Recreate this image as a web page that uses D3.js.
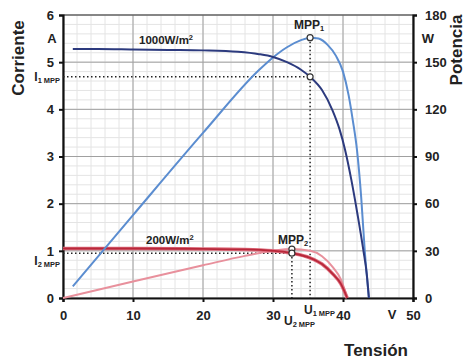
<!DOCTYPE html>
<html><head><meta charset="utf-8">
<script src="https://cdn.jsdelivr.net/npm/d3@7"></script>
<style>body{margin:0;background:#fff}svg{display:block}text{font-family:"Liberation Sans",Arial,sans-serif;font-weight:bold;fill:#222}</style>
</head><body><svg id="c" width="466" height="362"></svg>
<script>
// Data
const xTicks = [0, 10, 20, 30, 40, 50];
const iTicks = [0, 1, 2, 3, 4, 5, 6];
const pTicks = [0, 30, 60, 90, 120, 150, 180];

const v1000 = [1.4, 5, 10, 15, 20, 25, 28, 30, 32, 34, 35.3, 37, 38.5, 39.5, 40.3, 41.2, 42.1, 42.9, 43.4, 43.7];
const i1000 = [5.28, 5.28, 5.27, 5.26, 5.25, 5.22, 5.17, 5.11, 5.0, 4.84, 4.69, 4.41, 3.98, 3.58, 3.14, 2.5, 1.75, 1.02, 0.5, 0];

const vP1000 = [1.4, 10, 20, 28, 30, 32, 34, 35.3, 36.5, 37.8, 39, 40, 40.8, 41.4, 42, 42.6, 43.1, 43.7];
const p1000 = [7.4, 52.7, 105, 145, 153, 159.5, 164, 165.6, 165, 161, 154, 144, 129, 113, 94, 64, 30.5, 0];

const v200 = [0, 10, 20, 26, 30, 32.7, 35.3, 37, 38.6, 39.7, 40.6];
const i200 = [1.05, 1.05, 1.04, 1.03, 1.0, 0.95, 0.85, 0.72, 0.5, 0.3, 0];
const p200 = [0, 10.5, 20.8, 26.8, 30, 31.1, 30, 26.6, 19.3, 11.9, 0];

const mpp1 = {v: 35.3, i: 4.69, p: 165.6};
const mpp2 = {v: 32.7, i: 0.95, p: 31.1};

const svg = d3.select("#c");
const L = 63, R = 413, T = 15, B = 298;
const x = d3.scaleLinear().domain([0, 50]).range([L, R]);
const yI = d3.scaleLinear().domain([0, 6]).range([B, T]);
const yP = d3.scaleLinear().domain([0, 180]).range([B, T]);

// grid
const g = svg.append("g");
g.selectAll(".vm").data(d3.range(0, 50.01, 2)).join("line")
  .attr("x1", d => x(d)).attr("x2", d => x(d)).attr("y1", T).attr("y2", B)
  .attr("stroke", "#e4e4e4").attr("stroke-width", 1);
g.selectAll(".hm").data(d3.range(0, 6.01, 0.2)).join("line")
  .attr("y1", d => yI(d)).attr("y2", d => yI(d)).attr("x1", L).attr("x2", R)
  .attr("stroke", "#e4e4e4").attr("stroke-width", 1);
g.selectAll(".vM").data(xTicks).join("line")
  .attr("x1", d => x(d)).attr("x2", d => x(d)).attr("y1", T).attr("y2", B)
  .attr("stroke", "#a0a0a0").attr("stroke-width", 1);
g.selectAll(".hM").data(iTicks).join("line")
  .attr("y1", d => yI(d)).attr("y2", d => yI(d)).attr("x1", L).attr("x2", R)
  .attr("stroke", "#a0a0a0").attr("stroke-width", 1);
svg.append("line").attr("x1", L).attr("x2", R).attr("y1", T).attr("y2", T).attr("stroke", "#444").attr("stroke-width", 1.2);

// axes
const axL = svg.append("g").attr("transform", `translate(${L},0)`)
  .call(d3.axisLeft(yI).tickValues(iTicks).tickSize(4).tickPadding(5).tickFormat(d3.format("d")));
const axR = svg.append("g").attr("transform", `translate(${R},0)`)
  .call(d3.axisRight(yP).tickValues(pTicks).tickSize(4).tickPadding(8).tickFormat(d3.format("d")));
const axB = svg.append("g").attr("transform", `translate(0,${B})`)
  .call(d3.axisBottom(x).tickValues(xTicks).tickSize(4).tickPadding(9).tickFormat(d3.format("d")));
[axL, axR, axB].forEach(a => {
  a.select(".domain").attr("stroke", "#111").attr("stroke-width", 2.2);
  a.selectAll(".tick line").attr("stroke", "#111").attr("stroke-width", 2);
  a.selectAll(".tick text").attr("font-size", 13).attr("font-weight", "bold").attr("fill", "#222")
    .attr("font-family", '"Liberation Sans",Arial,sans-serif');
});

// dotted guide lines
const dot = (x1, y1, x2, y2) => svg.append("line").attr("x1", x1).attr("y1", y1).attr("x2", x2).attr("y2", y2)
  .attr("stroke", "#222").attr("stroke-width", 1.5).attr("stroke-dasharray", "1.5,2.5");
dot(L, yI(mpp1.i), x(mpp1.v), yI(mpp1.i));
dot(x(mpp1.v), yP(mpp1.p), x(mpp1.v), B);
dot(L, yI(mpp2.i), x(mpp2.v), yI(mpp2.i));
dot(x(mpp2.v), yP(mpp2.p), x(mpp2.v), B);

// curves
const lineI = (vs, is) => d3.line().x((d, k) => x(vs[k])).y(d => yI(d)).curve(d3.curveMonotoneX)(is);
const lineP = (vs, ps) => d3.line().x((d, k) => x(vs[k])).y(d => yP(d)).curve(d3.curveMonotoneX)(ps);

svg.append("path").attr("d", lineP(v200, p200)).attr("fill", "none").attr("stroke", "#e8909c").attr("stroke-width", 2);
svg.append("path").attr("d", lineI(v200, i200)).attr("fill", "none").attr("stroke", "#e07080").attr("stroke-width", 3.5);
svg.append("path").attr("d", lineI(v200, i200)).attr("fill", "none").attr("stroke", "#b8283a").attr("stroke-width", 1.8);
svg.append("path").attr("d", lineP(vP1000, p1000)).attr("fill", "none").attr("stroke", "#5b8dd0").attr("stroke-width", 2);
svg.append("path").attr("d", lineI(v1000, i1000)).attr("fill", "none").attr("stroke", "#2c3a7e").attr("stroke-width", 2);

// MPP markers
const circ = (cx, cy) => svg.append("circle").attr("cx", cx).attr("cy", cy).attr("r", 3)
  .attr("fill", "#fff").attr("stroke", "#333").attr("stroke-width", 1.2);
circ(x(mpp1.v), yP(mpp1.p));
circ(x(mpp1.v), yI(mpp1.i));
circ(x(mpp2.v), yP(mpp2.p));
circ(x(mpp2.v), yI(mpp2.i));

// labels
const txt = (s, xx, yy, size, anchor) => svg.append("text").attr("x", xx).attr("y", yy)
  .attr("font-size", size).attr("text-anchor", anchor || "start").text(s);
txt("A", 52, 43, 13, "middle");
txt("W", 428, 43, 13, "middle");
txt("V", 392, 319, 13, "middle");

const sub = (main, s, xx, yy, size, anchor) => {
  const t = svg.append("text").attr("x", xx).attr("y", yy).attr("font-size", size).attr("text-anchor", anchor || "start");
  t.append("tspan").text(main);
  t.append("tspan").attr("font-size", size * 0.62).attr("dy", 2).text(s);
  return t;
};
sub("I", "1 MPP", 60, 81, 12, "end");
sub("I", "2 MPP", 60, 265, 12, "end");
sub("U", "1 MPP", 304, 314, 12, "start");
sub("U", "2 MPP", 284, 325, 12, "start");
sub("MPP", "1", 294, 29, 12, "start");
sub("MPP", "2", 278, 244, 12, "start");

const irr = (a, xx, yy) => {
  const t = svg.append("text").attr("x", xx).attr("y", yy).attr("font-size", 11.5);
  t.append("tspan").text(a);
  t.append("tspan").attr("font-size", 7.5).attr("dy", -4).text("2");
};
irr("1000W/m", 139, 44);
irr("200W/m", 146, 244);

svg.append("text").attr("transform", "translate(24,58) rotate(-90)").attr("text-anchor", "middle")
  .attr("font-size", 17).attr("fill", "#333").text("Corriente");
svg.append("text").attr("transform", "translate(462,50) rotate(-90)").attr("text-anchor", "middle")
  .attr("font-size", 17).attr("fill", "#333").text("Potencia");
svg.append("text").attr("x", 376).attr("y", 356).attr("text-anchor", "middle")
  .attr("font-size", 17).attr("fill", "#333").text("Tensión");
</script></body></html>
